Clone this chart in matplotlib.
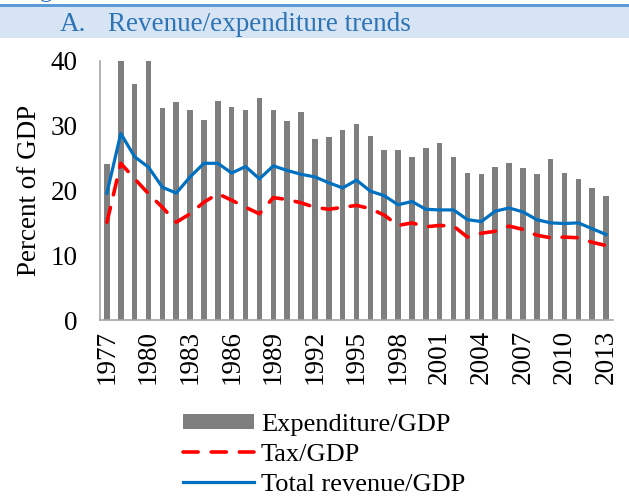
import numpy as np
import matplotlib.pyplot as plt
from matplotlib.patches import Rectangle

plt.rcParams['font.family'] = ['Liberation Serif', 'DejaVu Serif']

# ---------- Data (percent of GDP) ----------
years = list(range(1977, 2014))
expenditure = [24.1, 40.0, 36.4, 40.0, 32.8, 33.6, 32.5, 30.9, 33.8, 32.9,
               32.4, 34.3, 32.5, 30.8, 32.2, 28.0, 28.3, 29.3, 30.3, 28.4,
               26.3, 26.2, 25.1, 26.6, 27.3, 25.2, 22.7, 22.6, 23.6, 24.2,
               23.4, 22.5, 24.8, 22.7, 21.8, 20.4, 19.1]
tax = [15.1, 24.2, 21.8, 19.5, 17.4, 15.1, 16.4, 18.2, 19.5, 18.5,
       17.4, 16.4, 18.9, 18.6, 18.1, 17.4, 17.1, 17.4, 17.7, 17.2,
       16.2, 14.6, 15.0, 14.4, 14.6, 14.5, 12.8, 13.4, 13.7, 14.5,
       14.0, 13.1, 12.7, 12.8, 12.7, 12.0, 11.5]
revenue = [19.6, 28.8, 25.2, 23.6, 20.5, 19.6, 22.1, 24.2, 24.2, 22.7,
           23.7, 21.8, 23.8, 23.1, 22.5, 22.1, 21.2, 20.4, 21.6, 19.9,
           19.2, 17.8, 18.3, 17.1, 17.0, 17.0, 15.5, 15.2, 16.8, 17.3,
           16.7, 15.5, 15.0, 14.9, 15.0, 14.1, 13.2]
tick_years = years[::3]

W, H = 629, 497
fig = plt.figure(figsize=(W / 100, H / 100), dpi=100)

# ---------- Header band ----------
fig.patches.append(Rectangle((0, 1 - 38 / H), 1, 31 / H, transform=fig.transFigure,
                             facecolor='#d6e4f4', edgecolor='none', zorder=0))
fig.patches.append(Rectangle((0, 1 - 7 / H), 1, 3 / H, transform=fig.transFigure,
                             facecolor='#5b9bd5', edgecolor='none', zorder=1))
fig.text(60 / W, 1 - 31 / H, 'A.', color='#2e74b5', fontsize=19.5, va='baseline')
fig.text(108 / W, 1 - 31 / H, 'Revenue/expenditure trends', color='#2e74b5',
         fontsize=19.5, va='baseline')
fig.text(40 / W, 1 + 3 / H, 'g', color='#2e74b5', fontsize=18, va='baseline')

# ---------- Main axes ----------
ax = fig.add_axes([100 / W, 1 - 320 / H, 513 / W, 259 / H])
x = np.arange(len(years))
ax.bar(x, expenditure, width=0.4, color='#7f7f7f', label='Expenditure/GDP', zorder=1)
ax.plot(x, tax, color='#ff0000', linewidth=2.6, dashes=(4.2, 3.6),
        dash_capstyle='round', label='Tax/GDP', zorder=2)
ax.plot(x, revenue, color='#0070c0', linewidth=2.3, label='Total revenue/GDP', zorder=3)

ax.set_xlim(-0.5, len(years) - 0.5)
ax.set_ylim(0, 40)
ax.set_yticks([0, 10, 20, 30, 40])
ax.set_xticks(x[::3])
ax.set_xticklabels([str(y) for y in tick_years], rotation=90)
ax.tick_params(axis='both', length=0, labelsize=19.5)
ax.tick_params(axis='x', pad=7)
ax.tick_params(axis='y', pad=16)
ax.set_ylabel('Percent of GDP', fontsize=19.5, labelpad=6)
for side in ['top', 'right']:
    ax.spines[side].set_visible(False)
for side in ['left', 'bottom']:
    ax.spines[side].set_color('#a6a6a6')
    ax.spines[side].set_linewidth(1.2)

handles, labels = ax.get_legend_handles_labels()
order = [2, 0, 1]
fig.legend([handles[i] for i in order], [labels[i] for i in order],
           loc='upper left', bbox_to_anchor=(183 / W, 1 - 414 / H),
           frameon=False, fontsize=19, borderaxespad=0, borderpad=0,
           handlelength=2.7, handleheight=0.5, handletextpad=0.25,
           labelspacing=0.3)

fig.savefig('out.png', dpi=100)
